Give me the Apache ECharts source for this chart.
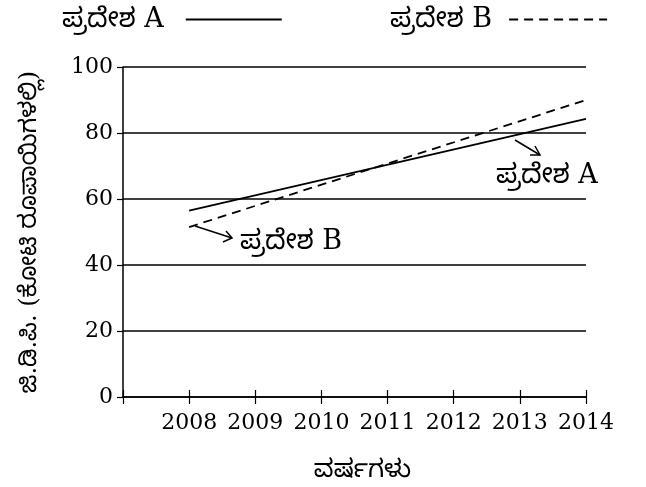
<!DOCTYPE html>
<html><head><meta charset="utf-8">
<script src="https://cdn.jsdelivr.net/npm/echarts@6/dist/echarts.min.js"></script>
<style>html,body{margin:0;padding:0;background:#fff}#c{width:646px;height:487px}</style>
</head><body><div id="c"></div>
<script>
var years = [2008, 2014];
var regionA = [56.5, 84.3];
var regionB = [51.5, 90.0];
var seriesNames = ['ಪ್ರದೇಶ A', 'ಪ್ರದೇಶ B'];
var yTicks = [0, 20, 40, 60, 80, 100];
var xName = 'ವರ್ಷಗಳು';
var yName = 'ಜಿ.ಡಿ.ಪಿ. (ಕೋಟಿ ರೂಪಾಯಿಗಳಲ್ಲಿ)';

var FONT = "'DejaVu Serif', 'Noto Sans Kannada', serif";
var chart = echarts.init(document.getElementById('c'));
function pairs(xs, ys){ return xs.map(function(x,i){return [x, ys[i]];}); }

chart.setOption({
  animation: false,
  backgroundColor: '#fff',
  textStyle: {fontFamily: FONT, color: '#000'},
  grid: {left: 123, right: 60, top: 67, bottom: 90, outerBoundsMode: 'none', containLabel: false},
  legend: [{
    data: [{name: seriesNames[0], itemStyle: {opacity: 0}}], left: 57, top: 1, align: 'right',
    itemWidth: 96, itemHeight: 14,
    textStyle: {fontFamily: FONT, fontSize: 27, color: '#000', padding: [0, 17, 0, 0]}
  }, {
    data: [{name: seriesNames[1], itemStyle: {opacity: 0}}], left: 385, top: 1, align: 'right',
    itemWidth: 98, itemHeight: 14,
    textStyle: {fontFamily: FONT, fontSize: 27, color: '#000', padding: [0, 12, 0, 0]}
  }],
  xAxis: [{
    type: 'value', min: 2007, max: 2014, interval: 1,
    name: xName, nameLocation: 'middle', nameGap: 61,
    nameTextStyle: {fontFamily: FONT, fontSize: 25, color: '#000', padding: [0, 0, 0, 16]},
    axisLine: {lineStyle: {color: '#000', width: 1.5}},
    axisTick: {length: 7, lineStyle: {color: '#000', width: 1.2}},
    axisLabel: {fontFamily: FONT, fontSize: 22, color: '#000', margin: 15,
      formatter: function(v){ return v === 2007 ? '' : String(v); }},
    splitLine: {show: false}
  }, {
    type: 'value', min: 2007, max: 2014, interval: 1, position: 'bottom',
    axisLine: {show: false}, axisLabel: {show: false}, splitLine: {show: false},
    axisTick: {inside: true, length: 7, lineStyle: {color: '#000', width: 1.2}}
  }],
  yAxis: {
    type: 'value', min: 0, max: 100, interval: 20,
    name: yName, nameLocation: 'middle', nameGap: 81, nameRotate: 90,
    nameTextStyle: {fontFamily: FONT, fontSize: 24, color: '#000'},
    axisLine: {show: true, lineStyle: {color: '#000', width: 1.5}},
    axisTick: {show: true, length: 6, lineStyle: {color: '#000', width: 1.2}},
    axisLabel: {fontFamily: FONT, fontSize: 22, color: '#000', margin: 10,
      formatter: function(v){ return yTicks.indexOf(v) >= 0 ? String(v) : ''; }},
    splitLine: {show: true, lineStyle: {color: '#000', width: 1.5}}
  },
  series: [{
    name: seriesNames[0], type: 'line', data: pairs(years, regionA),
    symbol: 'none', lineStyle: {color: '#000', width: 1.8, type: 'solid'},
    itemStyle: {color: '#000'}
  }, {
    name: seriesNames[1], type: 'line', data: pairs(years, regionB),
    symbol: 'none', lineStyle: {color: '#000', width: 1.8, type: [9, 6]},
    itemStyle: {color: '#000'}
  }],
  graphic: [
    {type: 'polyline', shape: {points: [[515, 140], [540, 155]]}, style: {stroke: '#000', lineWidth: 1.5, fill: null}},
    {type: 'polyline', shape: {points: [[530, 155], [540, 155], [535, 146]]}, style: {stroke: '#000', lineWidth: 1.5, fill: null}},
    {type: 'text', left: 496, top: 162, style: {text: seriesNames[0], font: '27px ' + FONT, fill: '#000'}},
    {type: 'polyline', shape: {points: [[195, 226], [232, 238]]}, style: {stroke: '#000', lineWidth: 1.5, fill: null}},
    {type: 'polyline', shape: {points: [[223, 242], [232, 238], [226, 231]]}, style: {stroke: '#000', lineWidth: 1.5, fill: null}},
    {type: 'text', left: 240, top: 228, style: {text: seriesNames[1], font: '27px ' + FONT, fill: '#000'}}
  ]
});
</script></body></html>
